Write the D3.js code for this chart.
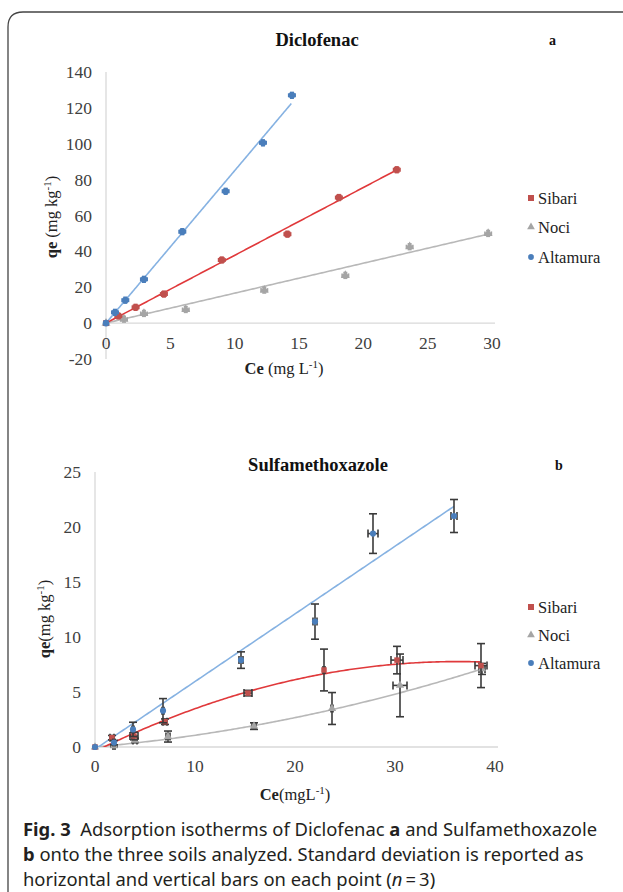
<!DOCTYPE html>
<meta charset="utf-8">
<title>Adsorption isotherms</title>
<style>
  body { margin: 0; background: #fff; }
  svg { display: block; }
  .tick-label { font-family: "Liberation Serif", serif; font-size: 17.5px; fill: #404040; }
  .legend-label { font-family: "Liberation Serif", serif; font-size: 16.5px; fill: #222; }
  .title { font-family: "Liberation Serif", serif; font-size: 18.5px; font-weight: bold; fill: #111; }
  .axis-title { font-family: "Liberation Serif", serif; font-size: 16.5px; fill: #222; }
  .caption { font-family: "Noto Sans", sans-serif; font-size: 18.4px; fill: #231f20; }
</style>
<body>
<svg width="623" height="892"></svg>
<script src="https://d3js.org/d3.v7.min.js"></script>
<script>
  // ---- panel a : Diclofenac ----
  var dicloXTicks = [0, 5, 10, 15, 20, 25, 30];
  var dicloYTicks = [-20, 0, 20, 40, 60, 80, 100, 120, 140];

  var dicloAltX = [0, 0.7, 1.5, 2.95, 5.93, 9.3, 12.2, 14.45];
  var dicloAltY = [0, 6, 12.8, 24.4, 51, 73.5, 100.5, 127];
  var dicloSibX = [0, 0.96, 2.3, 4.5, 9.0, 14.1, 18.1, 22.6];
  var dicloSibY = [0, 4, 8.8, 16.2, 35.2, 49.6, 70, 85.5];
  var dicloNocX = [0, 1.4, 2.95, 6.2, 12.3, 18.6, 23.6, 29.7];
  var dicloNocY = [0, 2.2, 5.4, 7.6, 18.4, 26.6, 42.6, 50];
  // small sd bars on panel a
  var dicloXsd = [0, 0.25, 0.25, 0.25, 0.25, 0.25, 0.25, 0.25];
  var dicloYsd = [0, 1.6, 1.6, 1.6, 1.6, 1.6, 1.6, 1.6];
  // linear trendlines: [slope, intercept]
  var dicloAltFit = [8.5, 0];
  var dicloSibFit = [3.78, 0];
  var dicloNocFit = [1.67, 0];

  // ---- panel b : Sulfamethoxazole ----
  var sulfaXTicks = [0, 10, 20, 30, 40];
  var sulfaYTicks = [0, 5, 10, 15, 20, 25];

  var sulfaAltX = [0, 1.9, 3.8, 6.8, 14.6, 22.0, 27.8, 35.9];
  var sulfaAltY = [0, 0.4, 1.6, 3.3, 7.9, 11.4, 19.4, 21.0];
  var sulfaAltXsd = [0, 0.1, 0.1, 0.1, 0.2, 0.2, 0.5, 0.3];
  var sulfaAltYsd = [0, 0.2, 0.65, 1.1, 0.75, 1.6, 1.8, 1.5];

  var sulfaSibX = [0, 1.7, 3.9, 7.0, 15.3, 22.9, 30.2, 38.6];
  var sulfaSibY = [0, 0.85, 1.0, 2.3, 4.9, 7.0, 7.9, 7.4];
  var sulfaSibXsd = [0, 0.2, 0.4, 0.2, 0.4, 0.1, 0.6, 0.6];
  var sulfaSibYsd = [0, 0.2, 0.35, 0.25, 0.25, 1.9, 1.25, 2.0];

  var sulfaNocX = [0, 1.9, 4.0, 7.3, 15.9, 23.7, 30.5, 38.7];
  var sulfaNocY = [0, 0.1, 0.6, 0.95, 1.9, 3.5, 5.6, 7.1];
  var sulfaNocXsd = [0, 0.1, 0.2, 0.2, 0.2, 0.1, 0.7, 0.3];
  var sulfaNocYsd = [0, 0.1, 0.2, 0.5, 0.3, 1.45, 2.85, 0.5];

  // trendlines: polynomial coefficients [c, b, a] -> c + b x + a x^2
  var sulfaAltFit = [-0.2, 0.615, 0];
  var sulfaSibFit = [-0.4, 0.45, -0.0062];
  var sulfaNocFit = [0, 0.08, 0.00267];

  var seriesNames = ["Sibari", "Noci", "Altamura"];
  var markerColor = { Sibari: "#c0504d", Noci: "#a5a5a5", Altamura: "#4a7ebb" };
  var lineColor = { Sibari: "#e0393b", Noci: "#b8b8b8", Altamura: "#86b2e2" };
  var markerShape = { Sibari: d3.symbolSquare, Noci: d3.symbolTriangle, Altamura: d3.symbolCircle };

  var svg = d3.select("svg");

  // figure frame
  svg.append("path")
    .attr("d", "M8,892 V27 Q8,12 23,12 H623")
    .attr("fill", "none")
    .attr("stroke", "#444")
    .attr("stroke-width", 1.3);

  function zip(xs, ys, xsd, ysd) {
    return xs.map(function (x, i) {
      return { x: x, y: ys[i], xsd: xsd ? xsd[i] : 0, ysd: ysd ? ysd[i] : 0 };
    });
  }

  function drawPanel(cfg) {
    var g = svg.append("g");
    var x = d3.scaleLinear().domain(cfg.xDomain).range(cfg.xRange);
    var y = d3.scaleLinear().domain(cfg.yDomain).range(cfg.yRange);

    var clipId = "clip" + cfg.id;
    g.append("clipPath").attr("id", clipId)
      .append("rect")
      .attr("x", x(cfg.xDomain[0])).attr("y", y(cfg.yDomain[1]) - 10)
      .attr("width", x(cfg.xDomain[1]) - x(cfg.xDomain[0]) + 10)
      .attr("height", y(cfg.yDomain[0]) - y(cfg.yDomain[1]) + 10);

    // y axis line
    g.append("line")
      .attr("x1", x(0)).attr("x2", x(0))
      .attr("y1", y(cfg.yDomain[0])).attr("y2", y(cfg.yDomain[1]))
      .attr("stroke", "#d9d9d9").attr("stroke-width", 1.3);
    // x axis line at y = 0
    g.append("line")
      .attr("x1", x(0)).attr("x2", x(cfg.xDomain[1]) + 3)
      .attr("y1", y(0)).attr("y2", y(0))
      .attr("stroke", "#d9d9d9").attr("stroke-width", 1.3);

    g.selectAll(".ytl").data(cfg.yTicks).enter().append("text")
      .attr("class", "tick-label")
      .attr("x", cfg.yLabelX).attr("y", function (d) { return y(d) + 6; })
      .attr("text-anchor", "end")
      .text(function (d) { return d; });

    g.selectAll(".xtl").data(cfg.xTicks).enter().append("text")
      .attr("class", "tick-label")
      .attr("x", function (d) { return x(d); }).attr("y", cfg.xLabelY)
      .attr("text-anchor", "middle")
      .text(function (d) { return d; });

    // trendlines
    cfg.series.forEach(function (s) {
      var f = s.fit;
      var xs = d3.range(0, 201).map(function (i) { return s.fitMin + (s.fitMax - s.fitMin) * i / 200; });
      var line = d3.line()
        .x(function (d) { return x(d); })
        .y(function (d) { return y(f[0] + f[1] * d + f[2] * d * d); });
      g.append("path")
        .datum(xs)
        .attr("clip-path", "url(#" + clipId + ")")
        .attr("d", line)
        .attr("fill", "none")
        .attr("stroke", lineColor[s.name])
        .attr("stroke-width", 1.6);
    });

    // error bars and markers
    cfg.series.forEach(function (s) {
      var eg = g.append("g");
      var barColor = cfg.barColor || markerColor[s.name];
      s.points.forEach(function (p) {
        if (p.ysd > 0) {
          eg.append("line").attr("x1", x(p.x)).attr("x2", x(p.x))
            .attr("y1", y(p.y - p.ysd)).attr("y2", y(p.y + p.ysd))
            .attr("stroke", barColor).attr("stroke-width", cfg.barWidth);
          [p.y - p.ysd, p.y + p.ysd].forEach(function (v) {
            eg.append("line").attr("x1", x(p.x) - cfg.cap).attr("x2", x(p.x) + cfg.cap)
              .attr("y1", y(v)).attr("y2", y(v))
              .attr("stroke", barColor).attr("stroke-width", cfg.barWidth);
          });
        }
        if (p.xsd > 0) {
          eg.append("line").attr("x1", x(p.x - p.xsd)).attr("x2", x(p.x + p.xsd))
            .attr("y1", y(p.y)).attr("y2", y(p.y))
            .attr("stroke", barColor).attr("stroke-width", cfg.barWidth);
          [p.x - p.xsd, p.x + p.xsd].forEach(function (v) {
            eg.append("line").attr("x1", x(v)).attr("x2", x(v))
              .attr("y1", y(p.y) - cfg.cap).attr("y2", y(p.y) + cfg.cap)
              .attr("stroke", barColor).attr("stroke-width", cfg.barWidth);
          });
        }
      });
      g.selectAll(null).data(s.points).enter().append("path")
        .attr("transform", function (d) { return "translate(" + x(d.x) + "," + y(d.y) + ")"; })
        .attr("d", d3.symbol().type(markerShape[s.name]).size(cfg.markerSize))
        .attr("fill", markerColor[s.name]);
    });

    // titles
    g.append("text").attr("class", "title")
      .attr("x", cfg.titleX).attr("y", cfg.titleY).attr("text-anchor", "middle")
      .text(cfg.title);
    g.append("text").attr("class", "title").style("font-size", "14px")
      .attr("x", cfg.letterX).attr("y", cfg.titleY - 1)
      .text(cfg.letter);

    var yt = g.append("text").attr("class", "axis-title")
      .attr("transform", "translate(" + cfg.yTitle[0] + "," + cfg.yTitle[1] + ") rotate(-90)")
      .attr("text-anchor", "middle");
    yt.append("tspan").style("font-weight", "bold").text("qe");
    yt.append("tspan").text(cfg.yTitleGap + "(mg kg");
    yt.append("tspan").attr("dy", -6).style("font-size", "11px").text("-1");
    yt.append("tspan").attr("dy", 6).text(")");

    var xt = g.append("text").attr("class", "axis-title")
      .attr("x", cfg.xTitle[0]).attr("y", cfg.xTitle[1]).attr("text-anchor", "middle");
    xt.append("tspan").style("font-weight", "bold").text("Ce");
    xt.append("tspan").text(cfg.xTitleGap + "(mg" + cfg.xTitleGap2 + "L");
    xt.append("tspan").attr("dy", -6).style("font-size", "11px").text("-1");
    xt.append("tspan").attr("dy", 6).text(")");

    // legend
    seriesNames.forEach(function (n, i) {
      var ly = cfg.legendY[i];
      g.append("path")
        .attr("transform", "translate(531," + ly + ")")
        .attr("d", d3.symbol().type(markerShape[n]).size(n === "Sibari" ? 36 : 26))
        .attr("fill", markerColor[n]);
      g.append("text").attr("class", "legend-label")
        .attr("x", 538).attr("y", ly + 5.5).text(n);
    });
  }

  drawPanel({
    id: "a",
    xDomain: [0, 30], xRange: [106, 492],
    yDomain: [-20, 140], yRange: [359, 72],
    xTicks: dicloXTicks, yTicks: dicloYTicks,
    yLabelX: 92, xLabelY: 349,
    title: "Diclofenac", titleX: 317, titleY: 46, letter: "a", letterX: 549,
    yTitle: [57, 217], yTitleGap: " ", xTitle: [284, 374], xTitleGap: " ", xTitleGap2: " ",
    legendY: [198, 227, 257],
    markerSize: 34, cap: 2, barWidth: 1.6,
    series: [
      { name: "Noci", points: zip(dicloNocX, dicloNocY, dicloXsd, dicloYsd), fit: [dicloNocFit[1], dicloNocFit[0], 0], fitMin: 0, fitMax: 29.7 },
      { name: "Sibari", points: zip(dicloSibX, dicloSibY, dicloXsd, dicloYsd), fit: [dicloSibFit[1], dicloSibFit[0], 0], fitMin: 0, fitMax: 22.6 },
      { name: "Altamura", points: zip(dicloAltX, dicloAltY, dicloXsd, dicloYsd), fit: [dicloAltFit[1], dicloAltFit[0], 0], fitMin: 0, fitMax: 14.4 }
    ]
  });

  drawPanel({
    id: "b",
    xDomain: [0, 40], xRange: [95, 495],
    yDomain: [0, 25], yRange: [747, 472],
    xTicks: sulfaXTicks, yTicks: sulfaYTicks,
    yLabelX: 81, xLabelY: 772,
    title: "Sulfamethoxazole", titleX: 318, titleY: 471, letter: "b", letterX: 555,
    yTitle: [50, 619], yTitleGap: "", xTitle: [295, 800], xTitleGap: "", xTitleGap2: "",
    legendY: [607, 635, 663],
    markerSize: 30, cap: 4, barWidth: 1.6, barColor: "#3a3a3a",
    series: [
      { name: "Noci", points: zip(sulfaNocX, sulfaNocY, sulfaNocXsd, sulfaNocYsd), fit: sulfaNocFit, fitMin: 0, fitMax: 38.7 },
      { name: "Sibari", points: zip(sulfaSibX, sulfaSibY, sulfaSibXsd, sulfaSibYsd), fit: sulfaSibFit, fitMin: 0, fitMax: 38.6 },
      { name: "Altamura", points: zip(sulfaAltX, sulfaAltY, sulfaAltXsd, sulfaAltYsd), fit: sulfaAltFit, fitMin: 0, fitMax: 35.9 }
    ]
  });

  // caption
  var capLines = [
    [["b", "Fig. 3"], ["n", "  Adsorption isotherms of Diclofenac "], ["b", "a"], ["n", " and Sulfamethoxazole"]],
    [["b", "b"], ["n", " onto the three soils analyzed. Standard deviation is reported as"]],
    [["n", "horizontal and vertical bars on each point ("], ["i", "n"], ["n", "\u2009=\u20093)"]]
  ];
  var capY = [836, 861, 886];
  capLines.forEach(function (parts, i) {
    var t = svg.append("text").attr("class", "caption").attr("x", 23).attr("y", capY[i])
      .attr("xml:space", "preserve");
    parts.forEach(function (p) {
      var ts = t.append("tspan").text(p[1]);
      if (p[0] === "b") ts.style("font-weight", "bold");
      if (p[0] === "i") ts.style("font-style", "italic");
    });
  });
</script>
</body>
